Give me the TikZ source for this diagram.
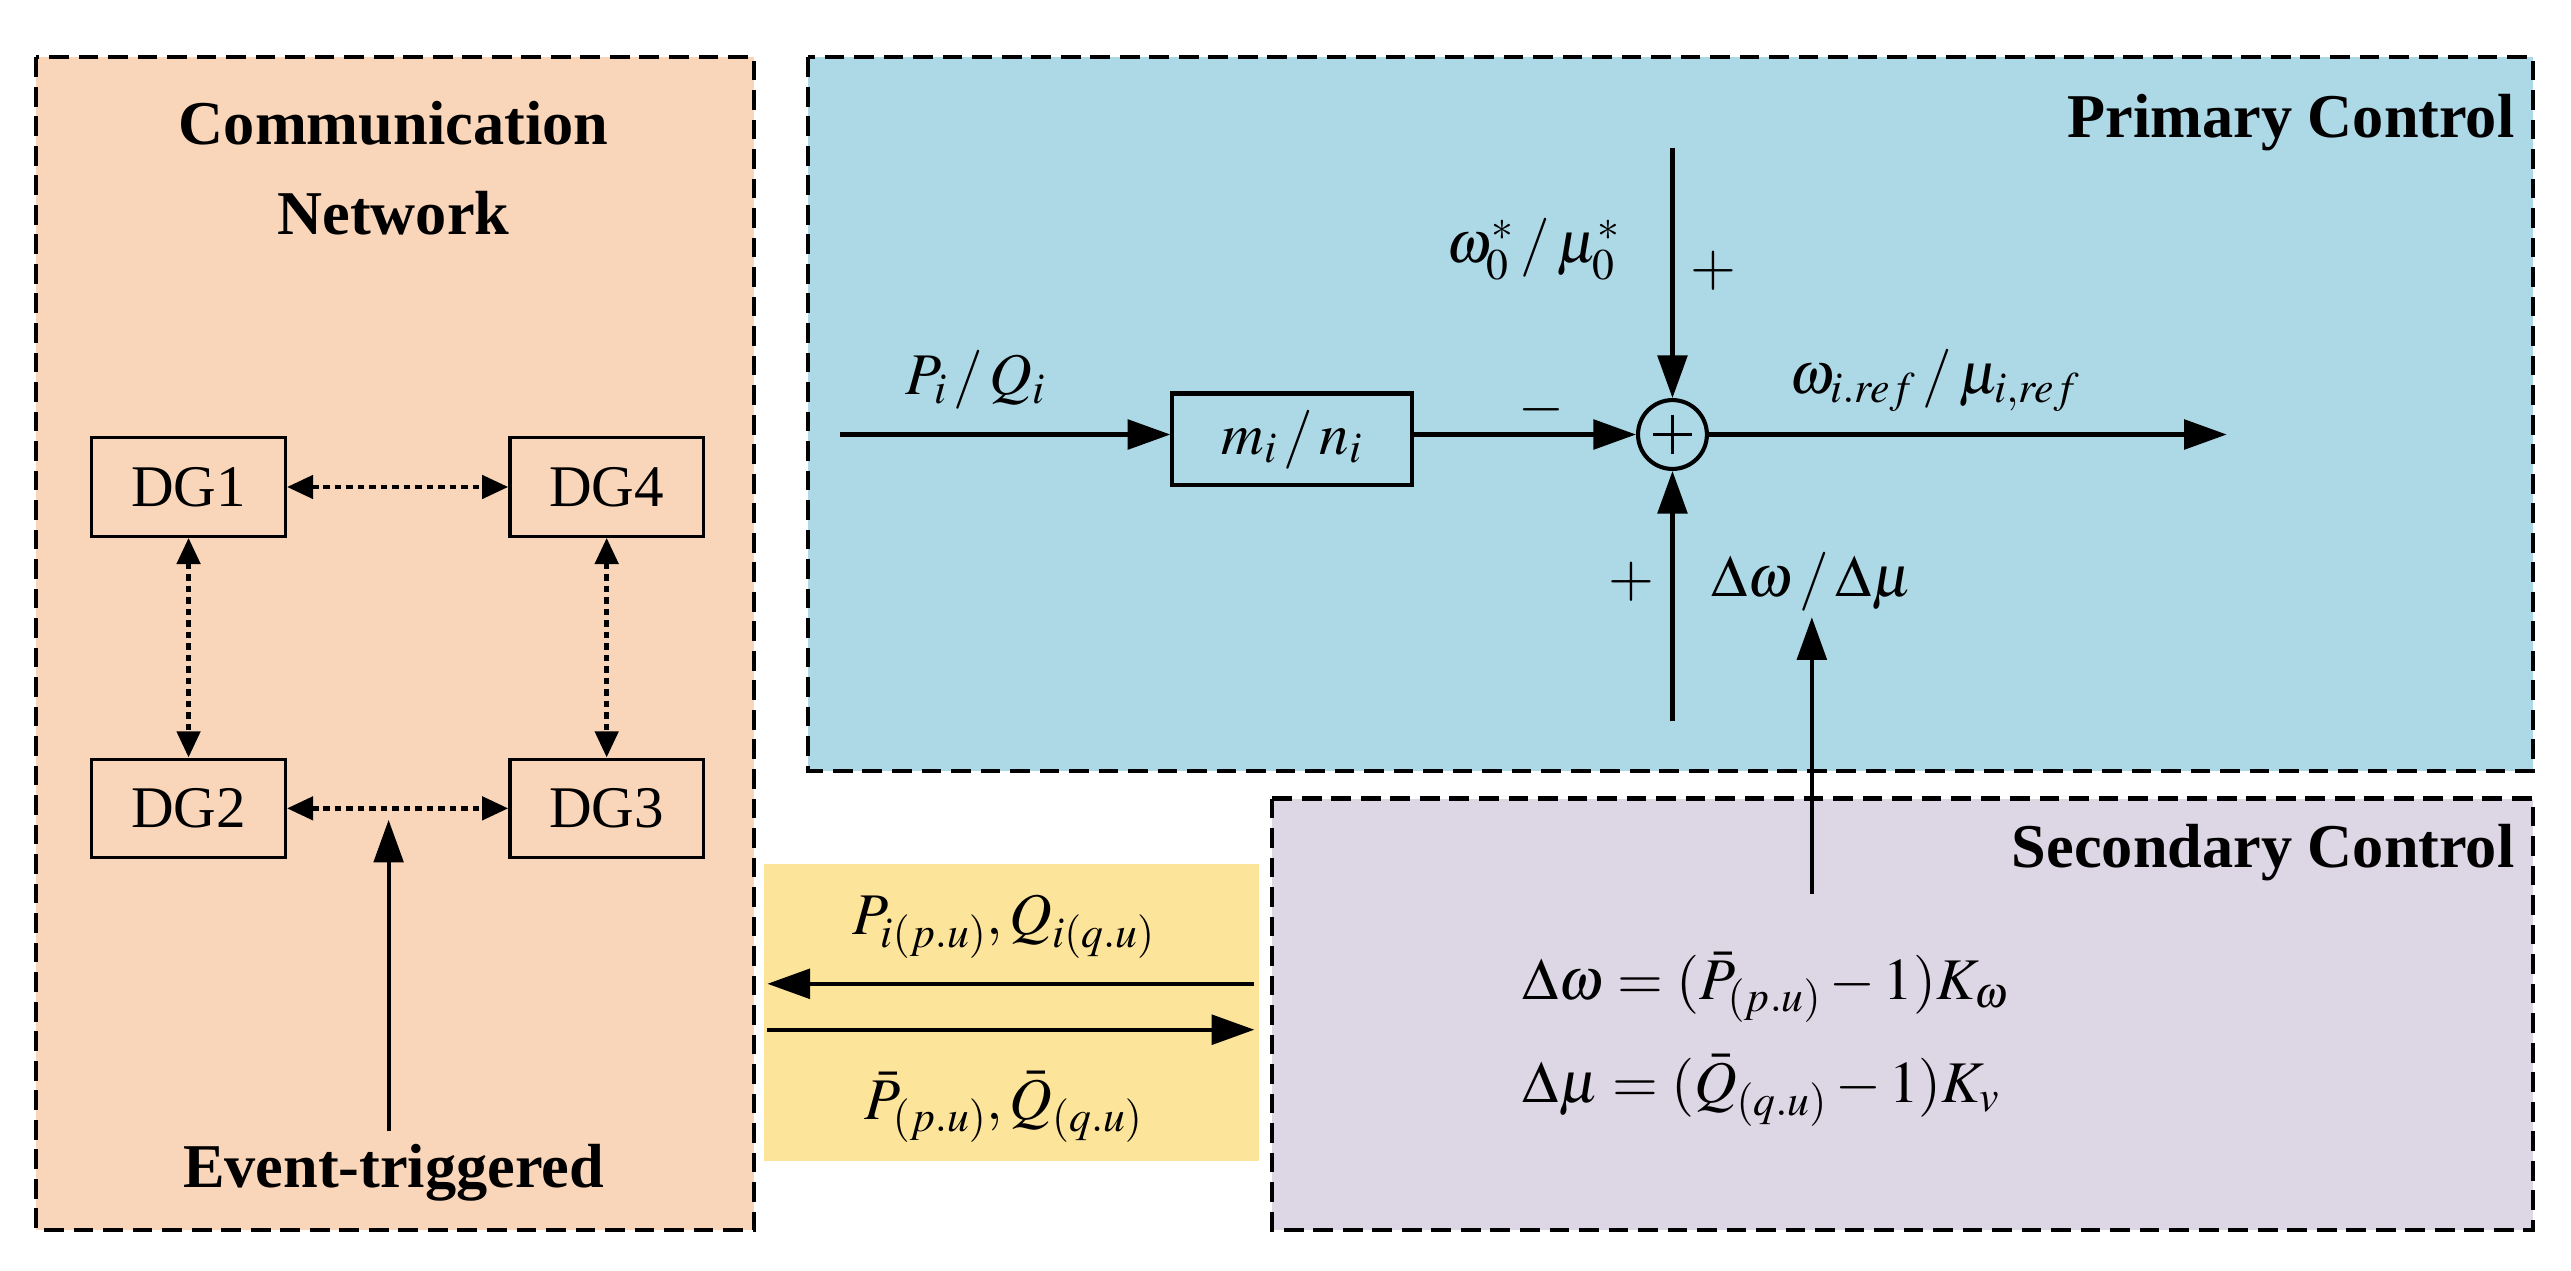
\documentclass[tikz,border=0pt]{standalone}
\usepackage{mathptmx}
\usepackage{fontspec}
\setmainfont{Liberation Serif}
\usetikzlibrary{arrows.meta}
\begin{document}
\begin{tikzpicture}[x=1pt,y=-1pt,
 panel/.style={draw,dashed,line width=2.5pt,dash pattern=on 12pt off 6pt},
 dg/.style={draw,line width=2pt,minimum width=118pt,minimum height=60pt,font=\fontsize{36}{40}\selectfont},
 ttl/.style={font=\fontsize{38}{42}\selectfont\bfseries},
 lbl/.style={font=\fontsize{36}{40}\selectfont},
 arr/.style={line width=2.5pt,-{Triangle[length=26pt,width=18pt]}},
 darr/.style={line width=3pt,dash pattern=on 4pt off 3pt,{Triangle[length=16pt,width=14pt]}-{Triangle[length=16pt,width=14pt]}}]
\useasboundingbox (0,0) rectangle (1568,775);
\definecolor{peach}{RGB}{249,214,186}
\definecolor{lblue}{RGB}{173,216,230}
\definecolor{lav}{RGB}{221,214,228}
\definecolor{yel}{RGB}{253,228,155}
\fill[peach] (22,35) rectangle (460,750);
\draw[panel] (22,35) rectangle (460,750);
\fill[lblue] (493,35) rectangle (1545,470);
\draw[panel] (493,35) rectangle (1545,470);
\fill[lav] (776,487) rectangle (1545,750);
\draw[panel] (776,487) rectangle (1545,750);
\fill[yel] (466,527) rectangle (768,708);
\node[ttl] (t1) at (240,75) {Communication};
\node[ttl] (t2) at (240,130) {Network};
\node[ttl,anchor=east] (t3) at (1537,75) {Primary Control};
\node[ttl,anchor=east] (t4) at (1537,520) {Secondary Control};
\node[ttl] (t5) at (240,715) {Event-triggered};
\node[dg] (d1) at (115,297) {DG1};
\node[dg] (d4) at (370,297) {DG4};
\node[dg] (d2) at (115,493) {DG2};
\node[dg] (d3) at (370,493) {DG3};
\draw[darr] (d1) -- (d4);
\draw[darr] (d2) -- (d3);
\draw[darr] (d1) -- (d2);
\draw[darr] (d4) -- (d3);
\coordinate (e0) at (237,690);
\coordinate (e1) at (237,500);
\draw[arr] (e0) -- (e1);
% primary
\node[draw,line width=2.5pt,minimum width=146pt,minimum height=56pt,lbl] (m) at (788,268) {$m_i\,/\,n_i$};
\coordinate (in) at (512,265);
\draw[arr] (in) -- (in -| m.west);
\node[lbl] at (595,232) {$P_i\,/\,Q_i$};
\node[draw,circle,line width=2.5pt,minimum size=42pt,inner sep=0pt] (s) at (1020,265) {};
\draw[line width=2pt] (1008,265) -- (1032,265) (1020,253) -- (1020,277);
\draw[arr] (m.east |- s) -- (s.west);
\node[lbl] at (940,250) {$-$};
\coordinate (top) at (1020,90);
\draw[arr] (top) -- (s.north);
\node[lbl] at (935,152) {$\omega_0^*\,/\,\mu_0^*$};
\node[lbl] at (1045,165) {$+$};
\coordinate (bot) at (1020,440);
\draw[arr] (bot) -- (s.south);
\node[lbl] at (995,355) {$+$};
\node[lbl] (dw) at (1105,355) {$\Delta\omega\,/\,\Delta\mu$};
\coordinate (out) at (1358,265);
\draw[arr] (s.east) -- (out);
\node[lbl] at (1180,232) {$\omega_{i.ref}\,/\,\mu_{i,ref}$};
\coordinate (sc) at (1105,545);
\draw[arr] (sc) -- (dw.south);
% yellow
\coordinate (y1) at (765,600);
\coordinate (y2) at (468,600);
\coordinate (y3) at (468,628);
\coordinate (y4) at (765,628);
\draw[arr] (y1) -- (y2);
\draw[arr] (y3) -- (y4);
\node[lbl] at (612,565) {$P_{i(p.u)},Q_{i(q.u)}$};
\node[lbl] at (612,675) {$\bar P_{(p.u)},\bar Q_{(q.u)}$};
\node[lbl,anchor=west] at (925,602) {$\Delta\omega=(\bar P_{(p.u)}-1)K_\omega$};
\node[lbl,anchor=west] at (925,665) {$\Delta\mu=(\bar Q_{(q.u)}-1)K_v$};
\end{tikzpicture}
\end{document}
